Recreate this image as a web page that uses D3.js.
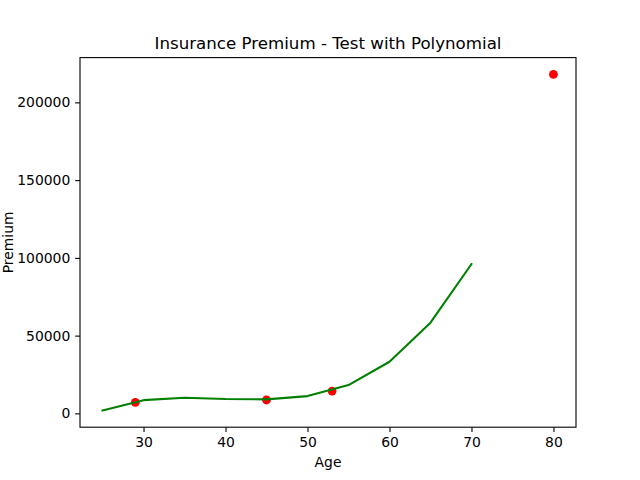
<!DOCTYPE html>
<html><head><meta charset="utf-8">
<script src="https://cdn.jsdelivr.net/npm/d3@7"></script>
<style>body{margin:0;background:#fff}svg{display:block}text{font-family:"DejaVu Sans",sans-serif}</style>
</head><body>
<svg id="c" width="640" height="480"></svg>
<script>
const testAges = [29, 45, 53, 80];
const testPremiums = [7100, 8600, 14300, 218000];
const lineAges = [25, 30, 35, 40, 45, 50, 55, 60, 65, 70];
const linePremiums = [1900, 8500, 10000, 9200, 9000, 11100, 18200, 33200, 58300, 96000];
const xTicks = [30, 40, 50, 60, 70, 80];
const yTicks = [0, 50000, 100000, 150000, 200000];

const svg = d3.select("#c");
const L = 80, R = 576, T = 57.6, B = 427.2;
const allX = testAges.concat(lineAges), allY = testPremiums.concat(linePremiums);
const xmin = d3.min(allX), xmax = d3.max(allX), ymin = d3.min(allY), ymax = d3.max(allY);
const xm = (xmax - xmin) * 0.05, ym = (ymax - ymin) * 0.05;
const x = d3.scaleLinear().domain([xmin - xm, xmax + xm]).range([L, R]);
const y = d3.scaleLinear().domain([ymin - ym, ymax + ym]).range([B, T]);

svg.selectAll("circle").data(testAges).enter().append("circle")
  .attr("cx", (d, i) => x(d)).attr("cy", (d, i) => y(testPremiums[i]))
  .attr("r", 4.4).attr("fill", "#ff0000");

svg.append("path").datum(lineAges.map((a, i) => [a, linePremiums[i]]))
  .attr("fill", "none").attr("stroke", "#008000").attr("stroke-width", 2.08)
  .attr("stroke-linejoin", "round").attr("stroke-linecap", "square")
  .attr("d", d3.line().x(d => x(d[0])).y(d => y(d[1])));

const xa = svg.append("g").attr("transform", `translate(0,${B})`)
  .call(d3.axisBottom(x).tickValues(xTicks).tickSize(4.86).tickPadding(4.86).tickFormat(d3.format("d")));
const ya = svg.append("g").attr("transform", `translate(${L},0)`)
  .call(d3.axisLeft(y).tickValues(yTicks).tickSize(4.86).tickPadding(4.86).tickFormat(d3.format("d")));
[xa, ya].forEach(g => {
  g.select(".domain").remove();
  g.selectAll("line").attr("stroke", "#000").attr("stroke-width", 1.1);
  g.selectAll("text").attr("font-size", "13.9px").attr("fill", "#000").style("font-family", '"DejaVu Sans",sans-serif');
});

svg.append("rect").attr("x", L).attr("y", T).attr("width", R - L).attr("height", B - T)
  .attr("fill", "none").attr("stroke", "#000").attr("stroke-width", 1.1);

svg.append("text").attr("x", (L + R) / 2).attr("y", 49.3).attr("text-anchor", "middle")
  .attr("font-size", "16.67px").text("Insurance Premium - Test with Polynomial");
svg.append("text").attr("x", (L + R) / 2).attr("y", 467).attr("text-anchor", "middle")
  .attr("font-size", "13.9px").text("Age");
svg.append("text").attr("transform", `translate(12.5,${(T + B) / 2}) rotate(-90)`).attr("text-anchor", "middle")
  .attr("font-size", "13.9px").text("Premium");
</script>
</body></html>
